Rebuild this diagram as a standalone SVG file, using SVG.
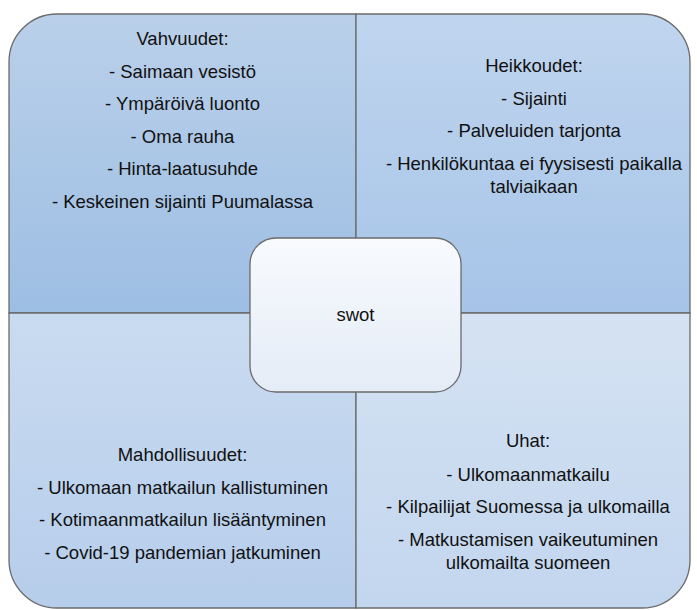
<svg xmlns="http://www.w3.org/2000/svg" width="697" height="610" viewBox="0 0 697 610">
<defs>
<linearGradient id="gTL" x1="0" y1="0" x2="0" y2="1"><stop offset="0" stop-color="#bad0ea"/><stop offset="1" stop-color="#9dbee3"/></linearGradient>
<linearGradient id="gTR" x1="0" y1="0" x2="0" y2="1"><stop offset="0" stop-color="#c0d5ee"/><stop offset="1" stop-color="#a6c4e8"/></linearGradient>
<linearGradient id="gBL" x1="0" y1="0" x2="0" y2="1"><stop offset="0" stop-color="#c9dbf0"/><stop offset="1" stop-color="#b6cdeb"/></linearGradient>
<linearGradient id="gBR" x1="0" y1="0" x2="0" y2="1"><stop offset="0" stop-color="#d5e2f3"/><stop offset="1" stop-color="#c2d6ee"/></linearGradient>
<linearGradient id="gC" x1="0" y1="0" x2="0" y2="1"><stop offset="0" stop-color="#f8fafd"/><stop offset="1" stop-color="#e4ecf7"/></linearGradient>
</defs>
<style>
.q{stroke:#6b6b6b;stroke-width:1.3}
text{font-family:"Liberation Sans",Arial,sans-serif;font-size:18.5px;fill:#111;text-anchor:middle}
</style>
<g id="strengths">
<path class="q" fill="url(#gTL)" d="M9,313 V62 A48,48 0 0 1 57,14 H356 V313 Z"/>
<text x="182.5" y="45">Vahvuudet:</text>
<text x="182.5" y="77.5">- Saimaan vesistö</text>
<text x="182.5" y="110">- Ympäröivä luonto</text>
<text x="182.5" y="142.5">- Oma rauha</text>
<text x="182.5" y="175">- Hinta-laatusuhde</text>
<text x="182.5" y="207.5">- Keskeinen sijainti Puumalassa</text>
</g>
<g id="weaknesses">
<path class="q" fill="url(#gTR)" d="M356,14 H642 A48,48 0 0 1 690,62 V313 H356 Z"/>
<text x="534" y="72">Heikkoudet:</text>
<text x="534" y="104.5">- Sijainti</text>
<text x="534" y="137">- Palveluiden tarjonta</text>
<text x="534" y="170">- Henkilökuntaa ei fyysisesti paikalla</text>
<text x="534" y="193">talviaikaan</text>
</g>
<g id="opportunities">
<path class="q" fill="url(#gBL)" d="M9,313 H356 V608 H57 A48,48 0 0 1 9,560 Z"/>
<text x="182.5" y="461">Mahdollisuudet:</text>
<text x="182.5" y="493.5">- Ulkomaan matkailun kallistuminen</text>
<text x="182.5" y="526">- Kotimaanmatkailun lisääntyminen</text>
<text x="182.5" y="558.5">- Covid-19 pandemian jatkuminen</text>
</g>
<g id="threats">
<path class="q" fill="url(#gBR)" d="M356,313 H690 V560 A48,48 0 0 1 642,608 H356 Z"/>
<text x="528" y="447">Uhat:</text>
<text x="528" y="480.5">- Ulkomaanmatkailu</text>
<text x="528" y="513">- Kilpailijat Suomessa ja ulkomailla</text>
<text x="528" y="546">- Matkustamisen vaikeutuminen</text>
<text x="528" y="568.5">ulkomailta suomeen</text>
</g>
<g id="connectors"></g>
<g id="swot">
<rect x="250" y="238" width="211" height="154" rx="26" fill="url(#gC)" stroke="#6b6b6b" stroke-width="1.3"/>
<text x="355.5" y="321">swot</text>
</g>
</svg>
